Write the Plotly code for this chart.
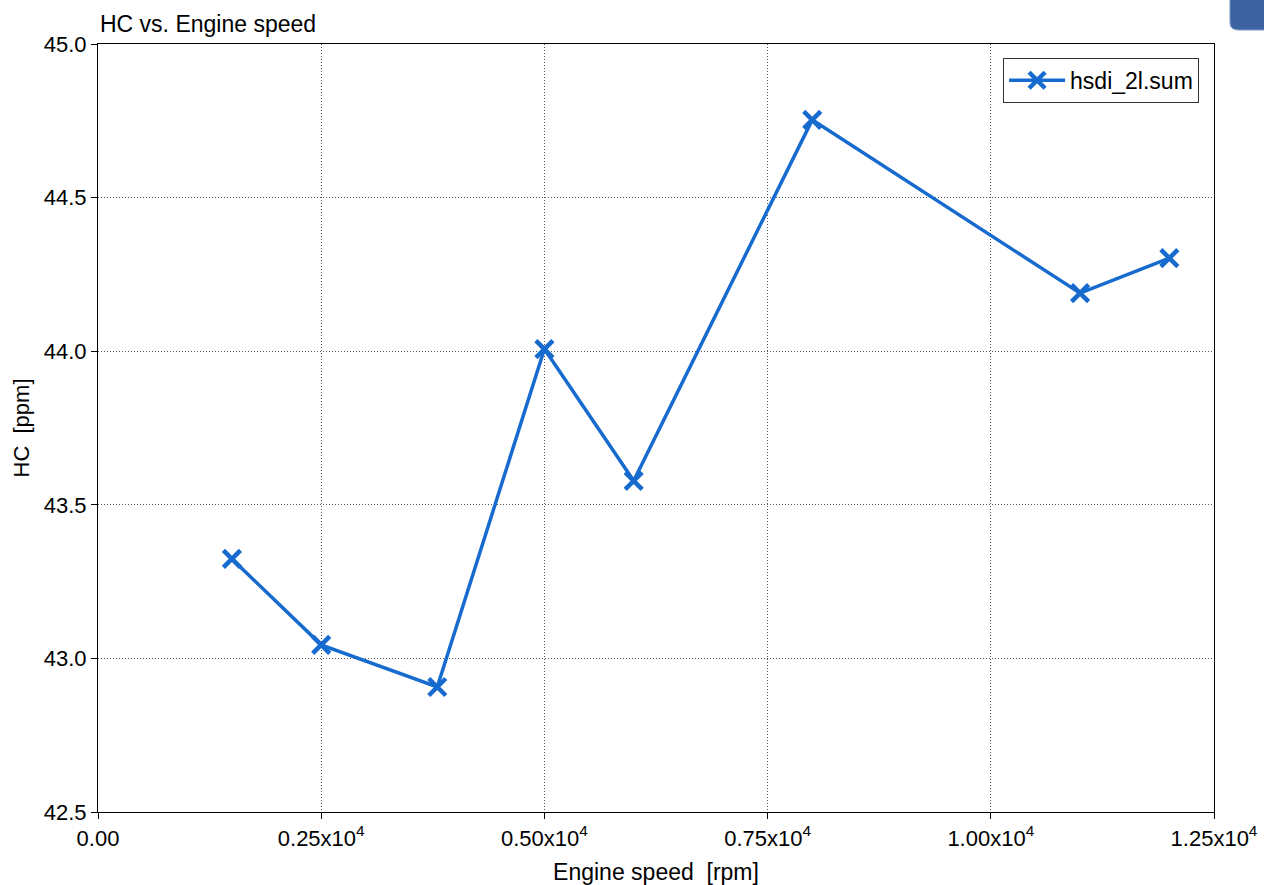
import plotly.graph_objects as go

speed = [1500, 2500, 3800, 5000, 6000, 8000, 11000, 12000]
hc = [43.324, 43.044, 42.907, 44.007, 43.578, 44.753, 44.189, 44.303]

x_tickvals = [0, 2500, 5000, 7500, 10000, 12500]
x_ticktext = ["0.00", "0.25x10<sup>4</sup>", "0.50x10<sup>4</sup>", "0.75x10<sup>4</sup>",
              "1.00x10<sup>4</sup>", "1.25x10<sup>4</sup>"]
y_tickvals = [42.5, 43.0, 43.5, 44.0, 44.5, 45.0]
y_ticktext = ["42.5", "43.0", "43.5", "44.0", "44.5", "45.0"]

color = "#176bcf"
font_family = "Liberation Sans, Arial, sans-serif"

fig = go.Figure()
fig.add_trace(go.Scatter(
    x=speed, y=hc, mode="lines+markers", name="hsdi_2l.sum",
    line=dict(color=color, width=3.5),
    marker=dict(symbol="x-thin", size=17, color=color, line=dict(color=color, width=4.5)),
))

axis_common = dict(
    showline=True, linecolor="black", linewidth=1.2, mirror=True,
    ticks="outside", ticklen=6, tickcolor="black",
    showgrid=True, gridcolor="#555555", griddash="1px,2px", gridwidth=1,
    zeroline=False, automargin=False,
    tickfont=dict(size=22, color="black", family=font_family),
)

fig.update_layout(
    width=1264, height=885,
    margin=dict(l=98, r=50, t=44, b=73),
    paper_bgcolor="white", plot_bgcolor="white",
    font=dict(family=font_family, color="black"),
    showlegend=True,
    legend=dict(x=0.811, y=0.982, xanchor="left", yanchor="top",
                bordercolor="#333333", borderwidth=1, bgcolor="white",
                font=dict(size=23, color="black"), itemwidth=56),
    xaxis=dict(range=[0, 12500], tickmode="array", tickvals=x_tickvals, ticktext=x_ticktext,
               title=dict(text="Engine speed  [rpm]", font=dict(size=23), standoff=15),
               **axis_common),
    yaxis=dict(range=[42.5, 45.0], tickmode="array", tickvals=y_tickvals, ticktext=y_ticktext,
               title=dict(text="HC  [ppm]", font=dict(size=22), standoff=7),
               **axis_common),
    annotations=[dict(text="HC vs. Engine speed", xref="paper", yref="paper",
                      x=0, y=1.0, xanchor="left", yanchor="bottom", yshift=5,
                      showarrow=False, font=dict(size=23, color="black"))],
    shapes=[dict(type="path", xref="paper", yref="paper",
                 path="M 1.0143,1.06 L 1.0143,1.028 Q 1.0143,1.0182 1.022,1.0182 L 1.06,1.0182 L 1.06,1.06 Z",
                 fillcolor="#3d63a2", line=dict(color="#7f9cc8", width=1))],
)

fig.write_html("out.html")
